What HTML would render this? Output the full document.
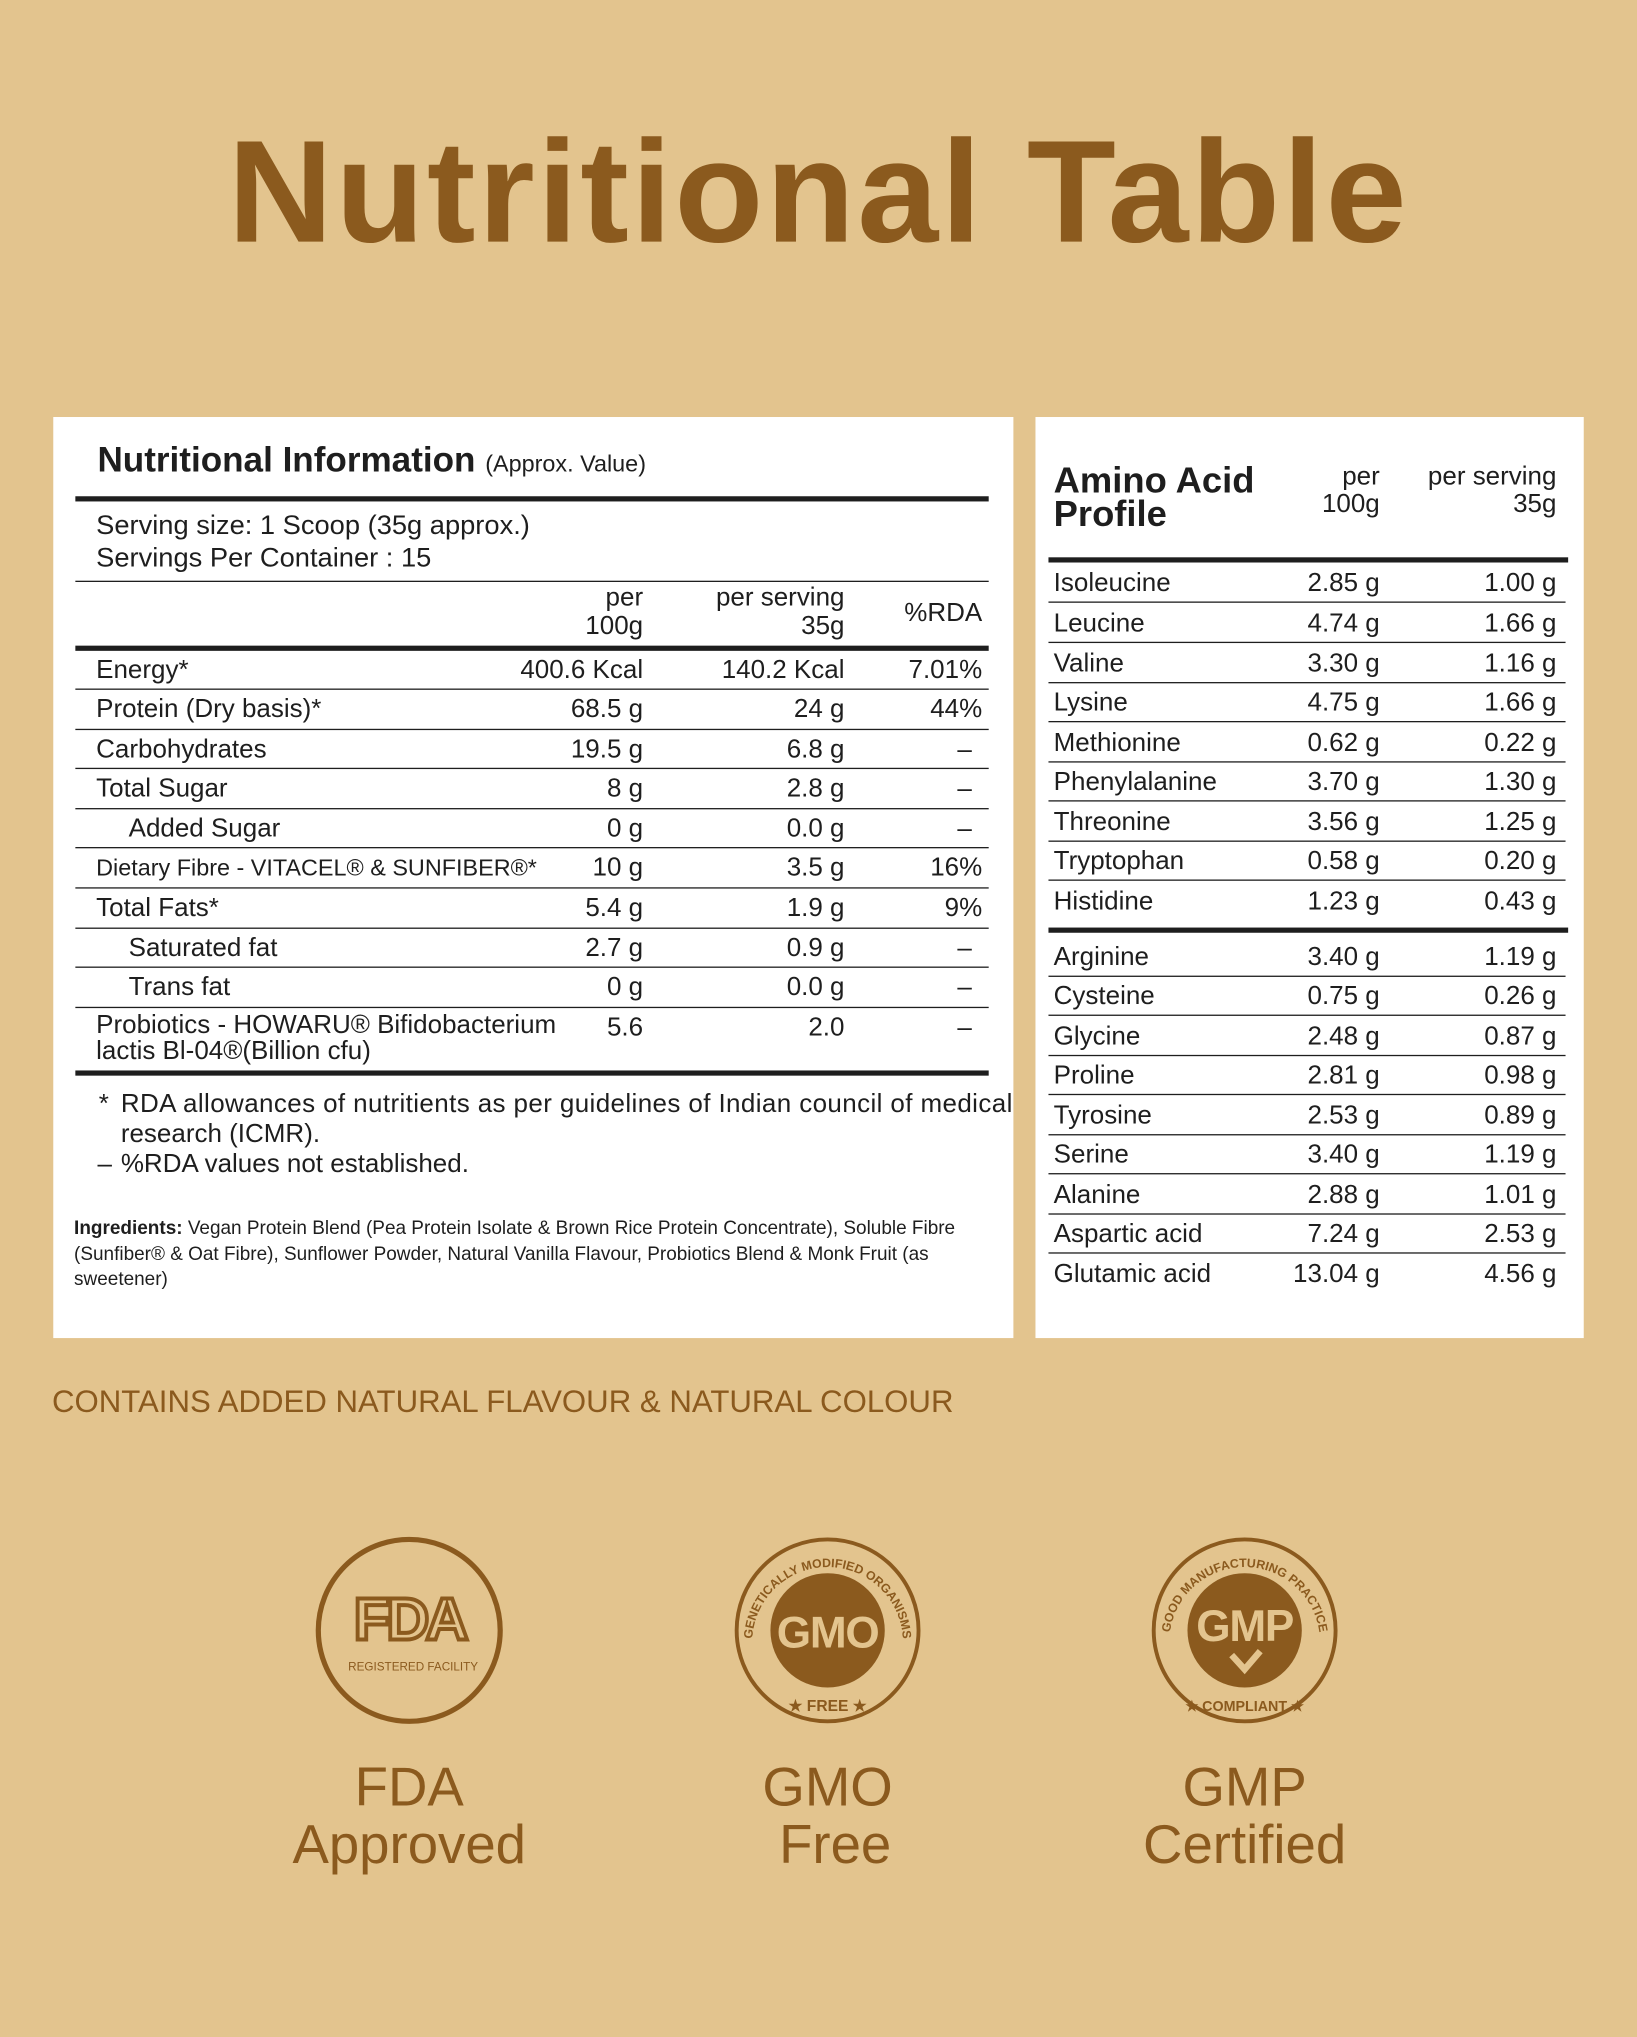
<!DOCTYPE html>
<html><head><meta charset="utf-8"><style>
html,body{margin:0;padding:0;}
body{width:1637px;height:2037px;overflow:hidden;background:#e3c48e;}
#w{position:absolute;left:0;top:0;width:1260px;height:1568px;transform:scale(1.29921,1.2991);transform-origin:0 0;font-family:"Liberation Sans",sans-serif;color:#1e1e1e;}
.a{position:absolute;white-space:nowrap;}
.t{position:absolute;font-size:20px;line-height:24px;height:24px;white-space:nowrap;}
.hr{position:absolute;background:#1e1e1e;height:1px;}
.R{text-align:right;}
</style></head><body><div id="w">
<div class="a" style="left:0;width:1260px;top:83px;text-align:center;font-size:112px;font-weight:bold;color:#8b5a1e;line-height:130px;letter-spacing:2px;">Nutritional Table</div>

<div class="a" style="left:41px;top:321px;width:739px;height:709px;background:#fff;"></div>
<div class="a" style="left:797px;top:321px;width:422px;height:709px;background:#fff;"></div>

<div class="a" style="left:75px;top:337px;font-size:27px;font-weight:bold;line-height:34px;">Nutritional Information <span style="font-size:18px;font-weight:normal;">(Approx. Value)</span></div>
<div class="hr" style="left:58px;width:703px;top:382px;height:4px;"></div>
<div class="t" style="left:74px;top:393px;font-size:21px;">Serving size: 1 Scoop (35g approx.)</div>
<div class="t" style="left:74px;top:418px;font-size:21px;">Servings Per Container : 15</div>
<div class="hr" style="left:58px;width:703px;top:447px;"></div>
<div class="t R" style="left:395px;width:100px;top:448px;">per</div>
<div class="t R" style="left:395px;width:100px;top:470px;">100g</div>
<div class="t R" style="left:500px;width:150px;top:448px;">per serving</div>
<div class="t R" style="left:500px;width:150px;top:470px;">35g</div>
<div class="t R" style="left:660px;width:96px;top:460px;">%RDA</div>
<div class="hr" style="left:58px;width:703px;top:497px;height:4px;"></div>

<div class="t" style="left:74px;top:504px;">Energy*</div><div class="t R" style="left:345px;width:150px;top:504px;">400.6 Kcal</div><div class="t R" style="left:500px;width:150px;top:504px;">140.2 Kcal</div><div class="t R" style="left:660px;width:96px;top:504px;">7.01%</div>
<div class="hr" style="left:58px;width:703px;top:530px;"></div>
<div class="t" style="left:74px;top:534px;">Protein (Dry basis)*</div><div class="t R" style="left:345px;width:150px;top:534px;">68.5 g</div><div class="t R" style="left:500px;width:150px;top:534px;">24 g</div><div class="t R" style="left:660px;width:96px;top:534px;">44%</div>
<div class="hr" style="left:58px;width:703px;top:561px;"></div>
<div class="t" style="left:74px;top:565px;">Carbohydrates</div><div class="t R" style="left:345px;width:150px;top:565px;">19.5 g</div><div class="t R" style="left:500px;width:150px;top:565px;">6.8 g</div><div class="t R" style="left:660px;width:88px;top:565px;">–</div>
<div class="hr" style="left:58px;width:703px;top:591px;"></div>
<div class="t" style="left:74px;top:595px;">Total Sugar</div><div class="t R" style="left:345px;width:150px;top:595px;">8 g</div><div class="t R" style="left:500px;width:150px;top:595px;">2.8 g</div><div class="t R" style="left:660px;width:88px;top:595px;">–</div>
<div class="hr" style="left:58px;width:703px;top:622px;"></div>
<div class="t" style="left:99px;top:626px;">Added Sugar</div><div class="t R" style="left:345px;width:150px;top:626px;">0 g</div><div class="t R" style="left:500px;width:150px;top:626px;">0.0 g</div><div class="t R" style="left:660px;width:88px;top:626px;">–</div>
<div class="hr" style="left:58px;width:703px;top:652px;"></div>
<div class="t" style="left:74px;top:656px;font-size:18px;">Dietary Fibre - VITACEL® &amp; SUNFIBER®*</div><div class="t R" style="left:345px;width:150px;top:656px;">10 g</div><div class="t R" style="left:500px;width:150px;top:656px;">3.5 g</div><div class="t R" style="left:660px;width:96px;top:656px;">16%</div>
<div class="hr" style="left:58px;width:703px;top:683px;"></div>
<div class="t" style="left:74px;top:687px;">Total Fats*</div><div class="t R" style="left:345px;width:150px;top:687px;">5.4 g</div><div class="t R" style="left:500px;width:150px;top:687px;">1.9 g</div><div class="t R" style="left:660px;width:96px;top:687px;">9%</div>
<div class="hr" style="left:58px;width:703px;top:714px;"></div>
<div class="t" style="left:99px;top:718px;">Saturated fat</div><div class="t R" style="left:345px;width:150px;top:718px;">2.7 g</div><div class="t R" style="left:500px;width:150px;top:718px;">0.9 g</div><div class="t R" style="left:660px;width:88px;top:718px;">–</div>
<div class="hr" style="left:58px;width:703px;top:744px;"></div>
<div class="t" style="left:99px;top:748px;">Trans fat</div><div class="t R" style="left:345px;width:150px;top:748px;">0 g</div><div class="t R" style="left:500px;width:150px;top:748px;">0.0 g</div><div class="t R" style="left:660px;width:88px;top:748px;">–</div>
<div class="hr" style="left:58px;width:703px;top:775px;"></div>
<div class="t" style="left:74px;top:777px;">Probiotics - HOWARU® Bifidobacterium</div>
<div class="t" style="left:74px;top:797px;">lactis Bl-04®(Billion cfu)</div>
<div class="t R" style="left:345px;width:150px;top:779px;">5.6</div><div class="t R" style="left:500px;width:150px;top:779px;">2.0</div><div class="t R" style="left:660px;width:88px;top:779px;">–</div>
<div class="hr" style="left:58px;width:703px;top:824px;height:4px;"></div>

<div class="t" style="left:76px;top:838px;font-size:20px;">*</div>
<div class="t" style="left:93px;top:838px;font-size:20px;letter-spacing:0.3px;">RDA allowances of nutritients as per guidelines of Indian council of medical</div>
<div class="t" style="left:93px;top:861px;font-size:20px;">research (ICMR).</div>
<div class="t" style="left:75px;top:884px;font-size:20px;">–</div>
<div class="t" style="left:93px;top:884px;font-size:20px;">%RDA values not established.</div>
<div class="a" style="left:57px;top:937px;width:712px;white-space:normal;font-size:14.6px;line-height:19.5px;"><b>Ingredients:</b> Vegan Protein Blend (Pea Protein Isolate &amp; Brown Rice Protein Concentrate), Soluble Fibre (Sunfiber® &amp; Oat Fibre), Sunflower Powder, Natural Vanilla Flavour, Probiotics Blend &amp; Monk Fruit (as sweetener)</div>

<div class="a" style="left:811px;top:357px;font-size:28px;font-weight:bold;line-height:26px;">Amino Acid<br>Profile</div>
<div class="t R" style="left:980px;width:82px;top:355px;">per</div>
<div class="t R" style="left:980px;width:82px;top:376px;">100g</div>
<div class="t R" style="left:1070px;width:128px;top:355px;">per serving</div>
<div class="t R" style="left:1070px;width:128px;top:376px;">35g</div>
<div class="hr" style="left:807px;width:400px;top:429px;height:4px;"></div>

<div class="a" style="left:40px;top:1066px;font-size:24px;color:#8b5a1e;line-height:28px;">CONTAINS ADDED NATURAL FLAVOUR &amp; NATURAL COLOUR</div>

<svg class="a" style="left:0;top:1170px;" width="1260" height="180" viewBox="0 1170 1260 180">
<defs>
<path id="ta" d="M 580 1275 A 58 58 0 1 1 694 1275"/>
<path id="tc" d="M 901 1275 A 58 58 0 1 1 1015 1275"/>
</defs>
<g fill="none" stroke="#8b5a1e">
<circle cx="315" cy="1255" r="70" stroke-width="4"/>
<circle cx="637" cy="1255" r="70" stroke-width="3"/>
<circle cx="958" cy="1255" r="70" stroke-width="3"/>
</g>
<text x="315" y="1262" text-anchor="middle" font-family="Liberation Sans" font-weight="bold" font-size="46" fill="none" stroke="#8b5a1e" stroke-width="3" letter-spacing="-3">FDA</text>
<text x="318" y="1286" text-anchor="middle" font-family="Liberation Sans" font-size="9" fill="#8b5a1e">REGISTERED FACILITY</text>
<circle cx="637" cy="1255" r="44" fill="#8b5a1e"/>
<text x="637" y="1268" text-anchor="middle" font-family="Liberation Sans" font-weight="bold" font-size="34" fill="#e3c48e" letter-spacing="-1">GMO</text>
<text font-family="Liberation Sans" font-weight="bold" font-size="9.5" fill="#8b5a1e"><textPath href="#ta" startOffset="50%" text-anchor="middle">GENETICALLY MODIFIED ORGANISMS</textPath></text>
<text x="637" y="1317" text-anchor="middle" font-family="Liberation Sans" font-weight="bold" font-size="12" fill="#8b5a1e">★ FREE ★</text>
<circle cx="958" cy="1255" r="44" fill="#8b5a1e"/>
<text x="958" y="1263" text-anchor="middle" font-family="Liberation Sans" font-weight="bold" font-size="34" fill="#e3c48e" letter-spacing="-1">GMP</text>
<path d="M948 1274 L958 1285 L970 1271" stroke="#e3c48e" stroke-width="5" fill="none"/>
<text font-family="Liberation Sans" font-weight="bold" font-size="9.5" fill="#8b5a1e"><textPath href="#tc" startOffset="50%" text-anchor="middle">GOOD MANUFACTURING PRACTICE</textPath></text>
<text x="958" y="1317" text-anchor="middle" font-family="Liberation Sans" font-weight="bold" font-size="11" fill="#8b5a1e">★ COMPLIANT ★</text>
</svg>

<div class="a" style="left:165px;width:300px;top:1354px;text-align:center;font-size:42px;line-height:44px;color:#8b5a1e;">FDA<br>Approved</div>
<div class="a" style="left:487px;width:300px;top:1354px;text-align:center;font-size:42px;line-height:44px;color:#8b5a1e;">GMO<br>&nbsp;Free</div>
<div class="a" style="left:808px;width:300px;top:1354px;text-align:center;font-size:42px;line-height:44px;color:#8b5a1e;">GMP<br>Certified</div>

<div class="t" style="left:811px;top:437px;">Isoleucine</div><div class="t R" style="left:960px;width:102px;top:437px;">2.85 g</div><div class="t R" style="left:1070px;width:128px;top:437px;">1.00 g</div><div class="hr" style="left:807px;width:398px;top:463px;"></div>
<div class="t" style="left:811px;top:468px;">Leucine</div><div class="t R" style="left:960px;width:102px;top:468px;">4.74 g</div><div class="t R" style="left:1070px;width:128px;top:468px;">1.66 g</div><div class="hr" style="left:807px;width:398px;top:494px;"></div>
<div class="t" style="left:811px;top:499px;">Valine</div><div class="t R" style="left:960px;width:102px;top:499px;">3.30 g</div><div class="t R" style="left:1070px;width:128px;top:499px;">1.16 g</div><div class="hr" style="left:807px;width:398px;top:525px;"></div>
<div class="t" style="left:811px;top:529px;">Lysine</div><div class="t R" style="left:960px;width:102px;top:529px;">4.75 g</div><div class="t R" style="left:1070px;width:128px;top:529px;">1.66 g</div><div class="hr" style="left:807px;width:398px;top:555px;"></div>
<div class="t" style="left:811px;top:560px;">Methionine</div><div class="t R" style="left:960px;width:102px;top:560px;">0.62 g</div><div class="t R" style="left:1070px;width:128px;top:560px;">0.22 g</div><div class="hr" style="left:807px;width:398px;top:586px;"></div>
<div class="t" style="left:811px;top:590px;">Phenylalanine</div><div class="t R" style="left:960px;width:102px;top:590px;">3.70 g</div><div class="t R" style="left:1070px;width:128px;top:590px;">1.30 g</div><div class="hr" style="left:807px;width:398px;top:616px;"></div>
<div class="t" style="left:811px;top:621px;">Threonine</div><div class="t R" style="left:960px;width:102px;top:621px;">3.56 g</div><div class="t R" style="left:1070px;width:128px;top:621px;">1.25 g</div><div class="hr" style="left:807px;width:398px;top:647px;"></div>
<div class="t" style="left:811px;top:651px;">Tryptophan</div><div class="t R" style="left:960px;width:102px;top:651px;">0.58 g</div><div class="t R" style="left:1070px;width:128px;top:651px;">0.20 g</div><div class="hr" style="left:807px;width:398px;top:677px;"></div>
<div class="t" style="left:811px;top:682px;">Histidine</div><div class="t R" style="left:960px;width:102px;top:682px;">1.23 g</div><div class="t R" style="left:1070px;width:128px;top:682px;">0.43 g</div>
<div class="hr" style="left:807px;width:400px;top:714px;height:4px;"></div>
<div class="t" style="left:811px;top:725px;">Arginine</div><div class="t R" style="left:960px;width:102px;top:725px;">3.40 g</div><div class="t R" style="left:1070px;width:128px;top:725px;">1.19 g</div><div class="hr" style="left:807px;width:398px;top:751px;"></div>
<div class="t" style="left:811px;top:755px;">Cysteine</div><div class="t R" style="left:960px;width:102px;top:755px;">0.75 g</div><div class="t R" style="left:1070px;width:128px;top:755px;">0.26 g</div><div class="hr" style="left:807px;width:398px;top:781px;"></div>
<div class="t" style="left:811px;top:786px;">Glycine</div><div class="t R" style="left:960px;width:102px;top:786px;">2.48 g</div><div class="t R" style="left:1070px;width:128px;top:786px;">0.87 g</div><div class="hr" style="left:807px;width:398px;top:812px;"></div>
<div class="t" style="left:811px;top:816px;">Proline</div><div class="t R" style="left:960px;width:102px;top:816px;">2.81 g</div><div class="t R" style="left:1070px;width:128px;top:816px;">0.98 g</div><div class="hr" style="left:807px;width:398px;top:842px;"></div>
<div class="t" style="left:811px;top:847px;">Tyrosine</div><div class="t R" style="left:960px;width:102px;top:847px;">2.53 g</div><div class="t R" style="left:1070px;width:128px;top:847px;">0.89 g</div><div class="hr" style="left:807px;width:398px;top:873px;"></div>
<div class="t" style="left:811px;top:877px;">Serine</div><div class="t R" style="left:960px;width:102px;top:877px;">3.40 g</div><div class="t R" style="left:1070px;width:128px;top:877px;">1.19 g</div><div class="hr" style="left:807px;width:398px;top:903px;"></div>
<div class="t" style="left:811px;top:908px;">Alanine</div><div class="t R" style="left:960px;width:102px;top:908px;">2.88 g</div><div class="t R" style="left:1070px;width:128px;top:908px;">1.01 g</div><div class="hr" style="left:807px;width:398px;top:934px;"></div>
<div class="t" style="left:811px;top:938px;">Aspartic acid</div><div class="t R" style="left:960px;width:102px;top:938px;">7.24 g</div><div class="t R" style="left:1070px;width:128px;top:938px;">2.53 g</div><div class="hr" style="left:807px;width:398px;top:964px;"></div>
<div class="t" style="left:811px;top:969px;">Glutamic acid</div><div class="t R" style="left:960px;width:102px;top:969px;">13.04 g</div><div class="t R" style="left:1070px;width:128px;top:969px;">4.56 g</div>
</div></body></html>
